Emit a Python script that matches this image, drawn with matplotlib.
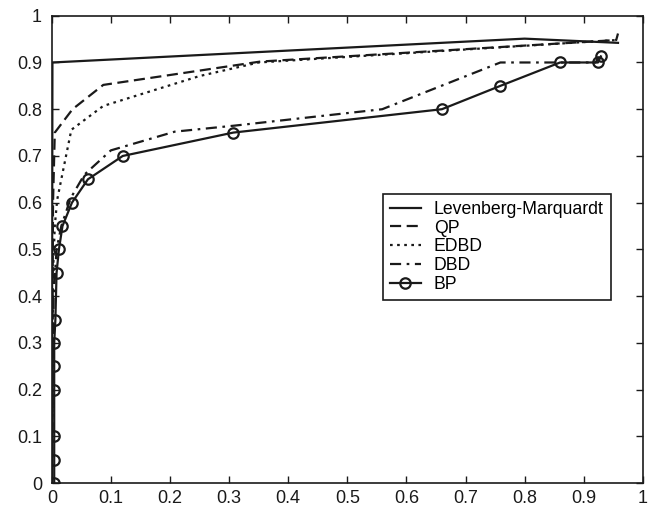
import matplotlib
matplotlib.use('Agg')
import matplotlib.pyplot as plt

plt.rcParams['font.family'] = ['Liberation Sans', 'DejaVu Sans']

# Levenberg-Marquardt
lm_x = [0, 0.001, 0.80, 0.958]
lm_y = [0, 0.90, 0.951, 0.942]

# QP
qp_x = [0, 0.002, 0.005, 0.035, 0.087, 0.353, 0.955, 0.958]
qp_y = [0, 0.60, 0.75, 0.80, 0.852, 0.902, 0.948, 0.962]

# EDBD
edbd_x = [0, 0.002, 0.005, 0.009, 0.016, 0.024, 0.033, 0.087, 0.25, 0.35, 0.955]
edbd_y = [0, 0.45, 0.55, 0.606, 0.65, 0.70, 0.756, 0.807, 0.871, 0.90, 0.948]

# DBD
dbd_x = [0, 0.003, 0.008, 0.016, 0.032, 0.055, 0.10, 0.208, 0.31, 0.559, 0.759, 0.86, 0.92, 0.925]
dbd_y = [0, 0.40, 0.50, 0.55, 0.61, 0.66, 0.712, 0.752, 0.765, 0.80, 0.90, 0.90, 0.90, 0.91]

# BP
bp_x = [0.004, 0.004, 0.004, 0.004, 0.004, 0.004, 0.006, 0.008, 0.012, 0.018,
        0.034, 0.061, 0.12, 0.307, 0.66, 0.759, 0.86, 0.924, 0.929]
bp_y = [0, 0.05, 0.10, 0.20, 0.25, 0.30, 0.35, 0.45, 0.50, 0.55,
        0.60, 0.65, 0.70, 0.75, 0.80, 0.85, 0.90, 0.90, 0.913]

tick_vals = [i / 10 for i in range(11)]
tick_labels = ['0', '0.1', '0.2', '0.3', '0.4', '0.5', '0.6', '0.7', '0.8', '0.9', '1']

fig = plt.figure(figsize=(6.48, 5.08), dpi=100)
ax = fig.add_axes([0.080, 0.049, 0.912, 0.920])

lw = 1.6
ax.plot(lm_x, lm_y, color='#1a1a1a', lw=lw, ls='-', label='Levenberg-Marquardt')
ax.plot(qp_x, qp_y, color='#1a1a1a', lw=lw, ls=(0, (5, 2.5)), label='QP')
ax.plot(edbd_x, edbd_y, color='#1a1a1a', lw=lw, ls=(0, (1.2, 2)), label='EDBD')
ax.plot(dbd_x, dbd_y, color='#1a1a1a', lw=lw, ls=(0, (5, 2.5, 1.2, 2.5)), label='DBD')
ax.plot(bp_x, bp_y, color='#1a1a1a', lw=lw, ls='-', marker='o', ms=7.5,
        mfc='none', mew=1.6, label='BP')

ax.set_xlim(0, 1)
ax.set_ylim(0, 1)
ax.set_xticks(tick_vals)
ax.set_yticks(tick_vals)
ax.set_xticklabels(tick_labels)
ax.set_yticklabels(tick_labels)
ax.tick_params(direction='in', top=True, right=True, length=5, width=1,
               labelsize=13, colors='#1a1a1a')
ax.tick_params(axis='y', pad=7)
ax.tick_params(axis='x', pad=5)
for s in ax.spines.values():
    s.set_linewidth(1.2)
    s.set_color('#1a1a1a')

leg = ax.legend(loc='upper right', bbox_to_anchor=(0.946, 0.619), fontsize=12.7,
                fancybox=False, framealpha=1, edgecolor='#1a1a1a',
                handlelength=1.75, handletextpad=0.75, labelspacing=0.1,
                borderpad=0.4, borderaxespad=0)
leg.get_frame().set_linewidth(1.2)

plt.savefig('out.png', dpi=100)
